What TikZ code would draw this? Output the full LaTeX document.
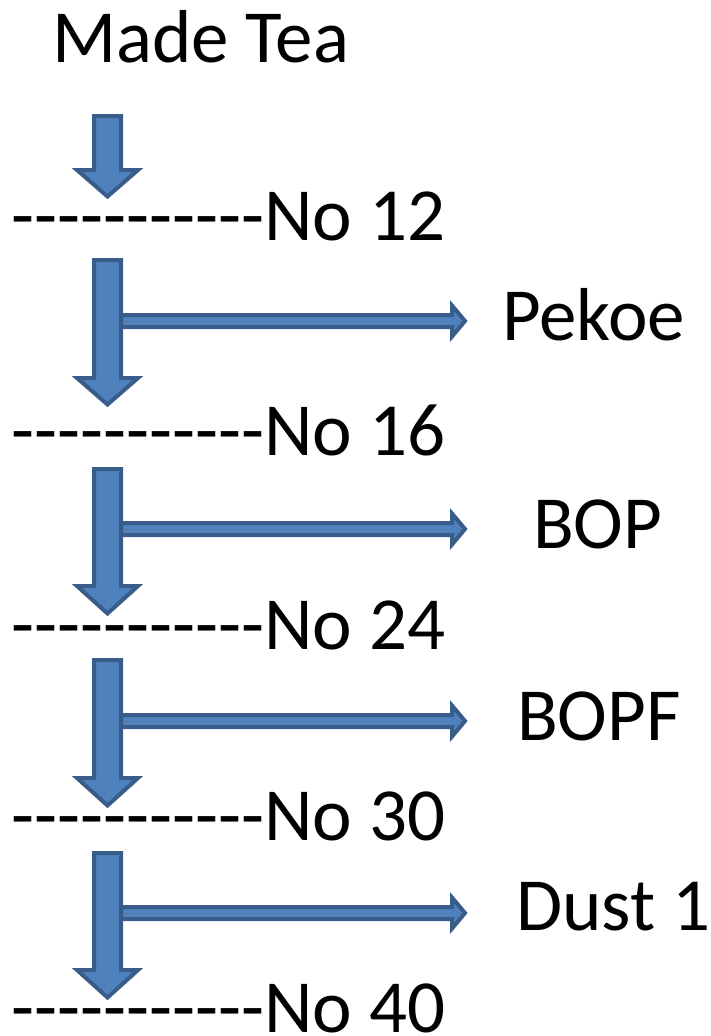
\documentclass[tikz,border=0pt]{standalone}
\usepackage{fontspec}
\setmainfont{Carlito}[Ligatures=TeXOff]
\definecolor{arrfill}{HTML}{4F81BD}
\definecolor{arrline}{HTML}{385D8A}
\newcommand\downblock[3]{%
  \draw[blockarrow] (94,#1) -- (121,#1) -- (121,#2) -- (138,#2) -- (107.5,#3) -- (77,#2) -- (94,#2) -- cycle;}
\newcommand\sideblock[1]{%
  \draw[blockarrow] (121,{#1-6}) -- (452,{#1-6}) -- (452,{#1-15.5}) -- (465,#1) -- (452,{#1+15.5}) -- (452,{#1+6}) -- (121,{#1+6}) -- cycle;}
\begin{document}
\begin{tikzpicture}[x=1pt,y=-1pt,
  blockarrow/.style={fill=arrfill,draw=arrline,line width=4pt,line join=miter,miter limit=10},
  lbl/.style={anchor=base west,inner sep=0pt,outer sep=0pt,font=\fontsize{75}{80}\selectfont}]
\useasboundingbox (0,0) rectangle (710,1036);
% texts
\node[lbl] (made) at (52,62) {Made Tea};
\node[lbl] (n12) at (12,240) {-----------No 12};
\node[lbl] (n16) at (12,455) {-----------No 16};
\node[lbl] (n24) at (12,649) {-----------No 24};
\node[lbl] (n30) at (12,840) {-----------No 30};
\node[lbl] (n40) at (12,1032) {-----------No 40};
\node[lbl] (pekoe) at (502,340) {Pekoe};
\node[lbl] (bop) at (533,548) {BOP};
\node[lbl] (bopf) at (517,740) {BOPF};
\node[lbl] (dust) at (516,930) {Dust 1};
% arrows
\downblock{116}{170}{196.5}
\sideblock{321}
\downblock{260}{378}{404.5}
\sideblock{529}
\downblock{469}{586}{613.5}
\sideblock{721}
\downblock{660}{778}{805.5}
\sideblock{913}
\downblock{853}{970}{997.5}
\end{tikzpicture}
\end{document}
